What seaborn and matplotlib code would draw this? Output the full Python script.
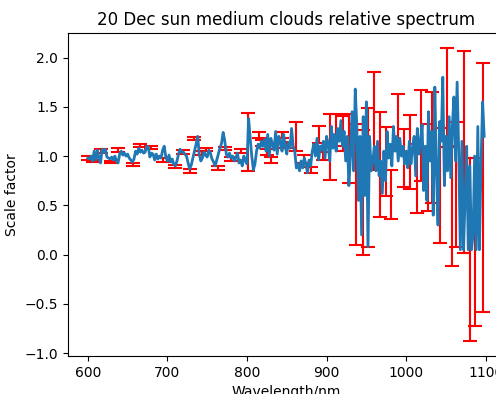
import matplotlib
matplotlib.use("Agg")
import matplotlib.pyplot as plt
import numpy as np
import seaborn as sns

# ── Data ──────────────────────────────────────────────────────
wavelength = np.arange(600, 1100, 2)

scale_factor = [
    0.98, 0.97, 1.00, 0.95, 1.05, 0.96, 1.06, 0.98, 0.93, 1.07,
    1.04, 1.07, 0.99, 0.98, 0.97, 0.99, 0.96, 1.00, 0.95, 0.93,
    1.02, 1.05, 1.01, 1.03, 1.00, 1.02, 0.98, 0.96, 0.94, 0.97,
    1.05, 1.02, 1.08, 1.04, 1.06, 1.03, 1.04, 1.10, 1.09, 0.99,
    1.03, 1.02, 0.96, 1.02, 0.97, 1.00, 0.98, 1.06, 1.10, 0.99,
    0.95, 1.01, 0.94, 0.97, 0.92, 0.90, 0.95, 1.02, 1.07, 1.04,
    1.04, 1.02, 1.00, 0.93, 0.87, 0.91, 0.98, 1.05, 1.12, 1.20,
    1.02, 0.95, 0.98, 1.04, 1.01, 0.99, 1.06, 1.03, 0.97, 0.94,
    0.90, 0.96, 1.02, 1.08, 1.13, 1.24, 1.16, 1.02, 0.99, 1.03,
    0.98, 1.00, 0.95, 0.98, 1.03, 0.93, 0.96, 0.90, 1.00, 0.95,
    0.92, 1.38, 1.18, 1.00, 0.86, 0.92, 1.05, 1.12, 1.08, 1.15,
    1.10, 1.17, 1.05, 1.22, 1.00, 1.18, 1.12, 1.06, 1.25, 1.02,
    1.20, 1.15, 1.05, 1.22, 1.10, 1.02, 1.14, 1.08, 1.28, 1.10,
    1.05, 0.88, 0.92, 0.85, 0.95, 0.88, 0.98, 0.92, 0.83, 0.96,
    0.90, 1.05, 1.12, 1.00, 1.18, 0.96, 1.10, 1.06, 1.15, 0.98,
    1.20, 1.12, 0.95, 1.30, 1.08, 1.22, 1.05, 1.28, 1.15, 1.36,
    1.10, 1.25, 0.95, 1.20, 0.70, 1.00, 1.45, 0.85, 1.68, 1.30,
    0.55, 1.20, 0.20, 1.40, 0.60, 1.55, 0.08, 1.20, 0.85, 0.95,
    1.10, 0.85, 1.15, 0.80, 0.95, 0.62, 1.05, 0.75, 1.25, 0.98,
    1.12, 0.90, 1.30, 1.05, 1.20, 0.95, 1.18, 1.00, 1.10, 0.92,
    1.05, 0.88, 1.15, 0.92, 1.08, 1.20, 0.80, 1.28, 1.02, 1.15,
    1.32, 0.65, 1.10, 0.55, 1.45, 0.95, 1.25, 0.40, 1.70, 0.85,
    0.30, 1.35, 1.15, 1.80, 0.70, 1.20, 0.85, 1.40, 0.78, 1.30,
    1.60, 0.95, 1.75, 1.05, 0.05, 1.15, 0.05, 0.55, 1.10, 0.05,
    0.90, 0.05, 0.20, 1.00, 0.05, 1.30, 0.05, 0.90, 1.55, 1.20,
]

err_wavelength = [
    600, 606, 616, 629, 638, 657, 666, 680, 694, 709,
    720, 729, 734, 744, 749, 763, 772, 780, 792, 801,
    815, 819, 825, 830, 844, 849, 861, 871, 880, 891,
    896, 904, 912, 920, 928, 937, 946, 952, 960, 967,
    975, 981, 990, 997, 1005, 1013, 1019, 1028, 1033, 1042,
    1051, 1057, 1062, 1073, 1080, 1087, 1096,
]
err_center = [
    0.98, 0.95, 1.05, 0.94, 1.06, 0.91, 1.11, 1.09, 0.96, 0.89,
    1.04, 0.85, 1.175, 1.03, 1.07, 0.88, 1.075, 0.97, 1.05, 1.145,
    1.21, 1.13, 1.04, 0.96, 1.21, 1.11, 1.20, 0.97, 0.86, 1.22,
    1.00, 1.095, 1.265, 1.23, 1.08, 0.715, 0.63, 0.785, 1.355, 0.915,
    0.945, 0.61, 1.34, 0.98, 1.045, 0.77, 1.21, 0.885, 1.09, 0.70,
    1.595, 0.49, 0.715, 1.045, 0.05, 0.13, 0.68,
]
err_size = [
    0.02, 0.015, 0.02, 0.015, 0.02, 0.015, 0.015, 0.015, 0.02, 0.015,
    0.02, 0.02, 0.015, 0.02, 0.015, 0.02, 0.015, 0.02, 0.02, 0.295,
    0.03, 0.03, 0.03, 0.03, 0.03, 0.03, 0.15, 0.04, 0.03, 0.09,
    0.04, 0.335, 0.165, 0.18, 0.35, 0.615, 0.635, 0.705, 0.495, 0.53,
    0.355, 0.25, 0.29, 0.29, 0.375, 0.35, 0.46, 0.44, 0.565, 0.58,
    0.505, 0.61, 0.635, 1.025, 0.93, 0.85, 1.26,
]

# ── Plot ──────────────────────────────────────────────────────
fig = plt.figure(figsize=(4.96, 3.94), dpi=100)
ax = fig.add_axes([68 / 496, 1 - 356 / 394, 436 / 496, 323 / 394])

ax.errorbar(err_wavelength, err_center, yerr=err_size, fmt="none",
            ecolor="red", elinewidth=1.5, capsize=5, capthick=1.5)
sns.lineplot(x=wavelength, y=scale_factor, ax=ax, color="tab:blue", linewidth=2)

ax.set_title("20 Dec sun medium clouds relative spectrum", fontsize=12)
ax.set_xlabel("Wavelength/nm")
ax.set_ylabel("Scale factor")

fig.savefig("out.png", dpi=100)
plt.close(fig)
